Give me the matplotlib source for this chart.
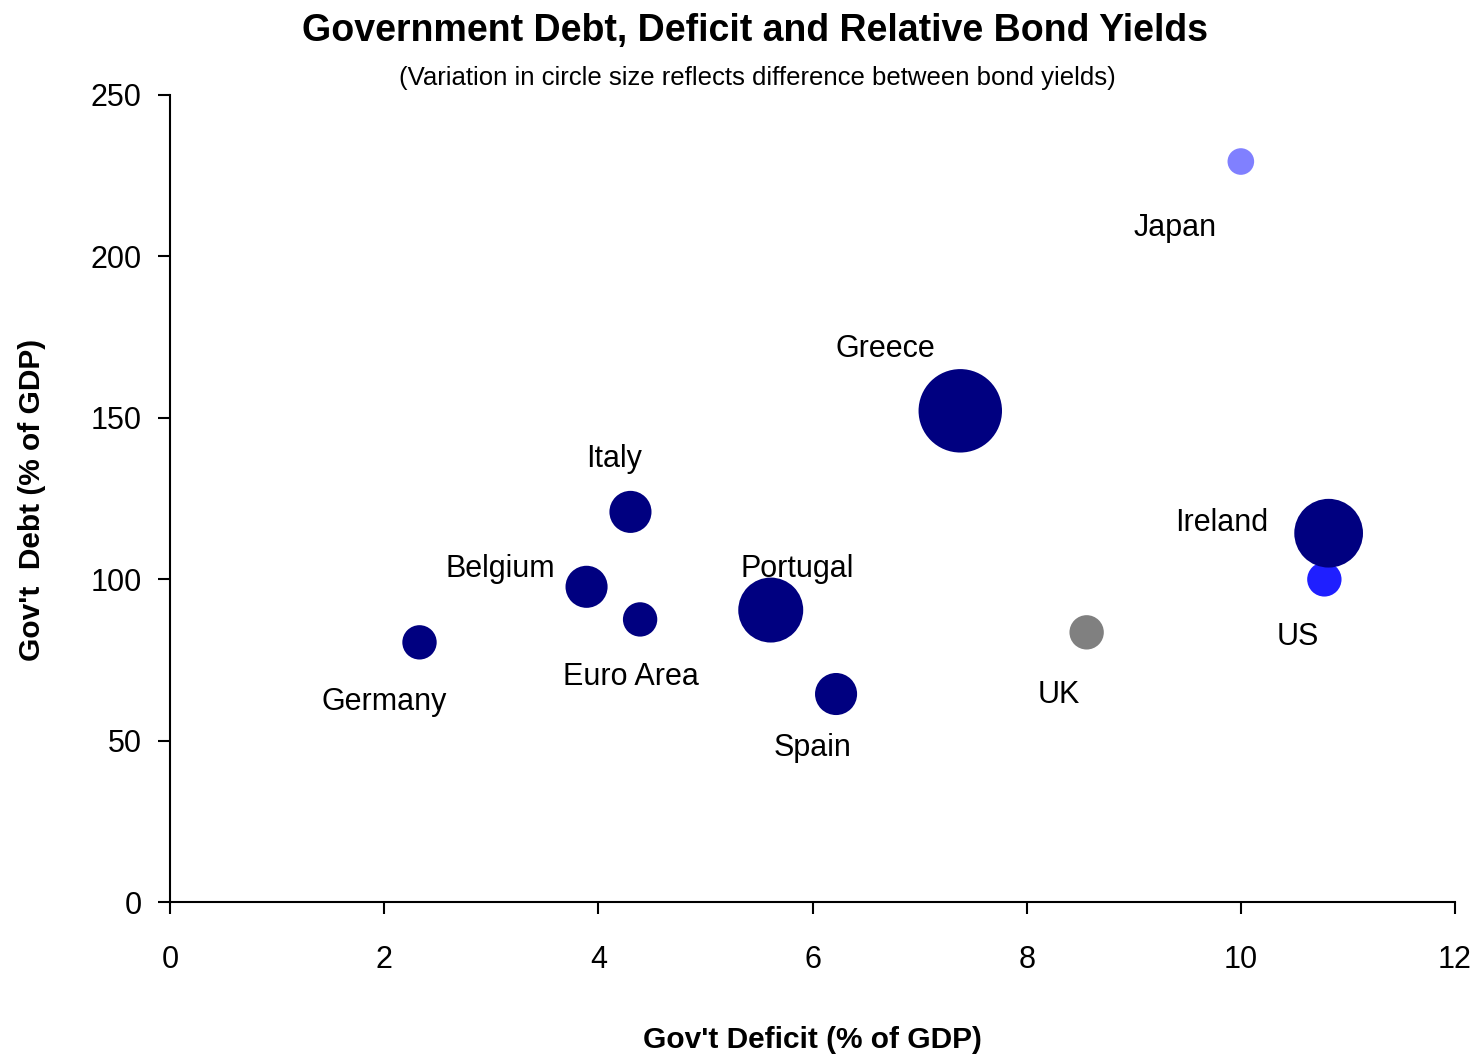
import matplotlib
matplotlib.use("Agg")
import matplotlib.pyplot as plt

plt.rcParams["font.family"] = ["Liberation Sans", "DejaVu Sans"]

# Government deficit (% of GDP), debt (% of GDP) and 10y bond yield (%) driving bubble area
countries = ["Germany", "Belgium", "Italy", "Euro Area", "Portugal", "Spain",
             "Greece", "UK", "Japan", "US", "Ireland"]
deficit = [2.33, 3.89, 4.30, 4.39, 5.61, 6.22, 7.38, 8.56, 10.0, 10.78, 10.82]
debt = [80.5, 97.7, 120.9, 87.6, 90.5, 64.5, 152.2, 83.6, 229.4, 100.0, 114.3]
bond_yield = [2.0, 3.0, 3.0, 2.0, 7.15, 3.0, 11.8, 2.0, 1.2, 2.0, 8.0]

colors = ["#000080"] * 7 + ["#808080", "#8080ff", "#1f1fff", "#000080"]
# where each country name sits (data coords, centred)
label_pos = [(2.0, 62.0), (3.08, 103.2), (4.15, 137.3), (4.30, 69.7), (5.86, 103.2),
             (6.0, 47.7), (6.68, 171.4), (8.30, 64.2), (9.39, 208.8), (10.53, 82.1),
             (9.82, 117.4)]

fig = plt.figure(figsize=(14.77, 10.59), dpi=100)
ax = fig.add_axes([170 / 1477, 1 - 902.3 / 1059, 1285 / 1477, (902.3 - 95) / 1059])

ax.scatter(deficit, debt, s=[306 * v for v in bond_yield], c=colors,
           linewidths=0, zorder=3, clip_on=False)

for name, (lx, ly) in zip(countries, label_pos):
    ax.text(lx, ly, name, fontsize=22, ha="center", va="center")

ax.set_xlim(0, 12)
ax.set_ylim(0, 250)
ax.set_xticks(range(0, 13, 2))
ax.set_yticks(range(0, 251, 50))

for side in ["top", "right"]:
    ax.spines[side].set_visible(False)
for side in ["left", "bottom"]:
    ax.spines[side].set_linewidth(1.5)

ax.tick_params(axis="both", direction="out", length=8.5, width=1.5, labelsize=22)
ax.tick_params(axis="y", pad=12)
ax.tick_params(axis="x", pad=22)

fig.text(755 / 1477, 1 - 31 / 1059, "Government Debt, Deficit and Relative Bond Yields",
         fontsize=27, fontweight="bold", ha="center", va="center")
fig.text(757 / 1477, 1 - 78 / 1059, "(Variation in circle size reflects difference between bond yields)",
         fontsize=18.5, ha="center", va="center")
fig.text(812 / 1477, 1 - 1040 / 1059, "Gov't Deficit (% of GDP)",
         fontsize=21.5, fontweight="bold", ha="center", va="center")
fig.text(32 / 1477, 1 - 500 / 1059, "Gov't  Debt (% of GDP)",
         fontsize=21.5, fontweight="bold", ha="center", va="center", rotation=90)

fig.savefig("out.png", dpi=100)
